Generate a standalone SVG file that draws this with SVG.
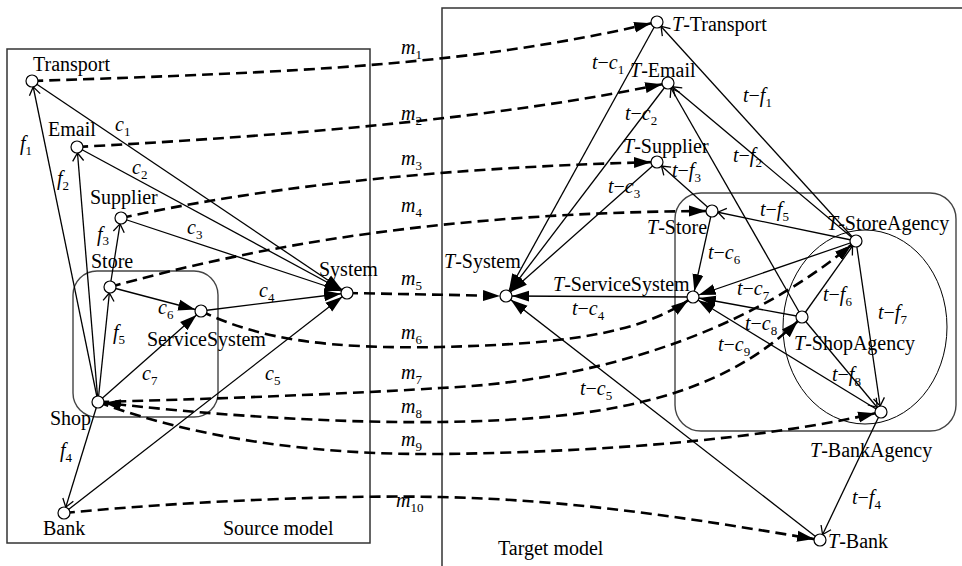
<svg xmlns="http://www.w3.org/2000/svg" width="962" height="566" viewBox="0 0 962 566">
<style>
.e{stroke:#000;stroke-width:1.3;fill:none}
.m{stroke:#000;stroke-width:2.6;stroke-dasharray:11 6;fill:none}
.n{fill:#fff;stroke:#000;stroke-width:1.2}
.t{font-family:"Liberation Serif","Times New Roman",serif;font-size:20px;fill:#000}
.i{font-style:italic}
.s{font-size:13px;font-style:normal}
.box{fill:none;stroke:#333;stroke-width:1.5}
.grp{fill:none;stroke:#444;stroke-width:1.4}
</style>
<defs>
<marker id="fa" markerUnits="userSpaceOnUse" markerWidth="26" markerHeight="14" refX="23" refY="7" orient="auto"><path d="M0,1.5 L17,7 L0,12.5 z" fill="#000"/></marker>
<marker id="fas" markerUnits="userSpaceOnUse" markerWidth="26" markerHeight="14" refX="23" refY="7" orient="auto-start-reverse"><path d="M0,1.5 L17,7 L0,12.5 z" fill="#000"/></marker>
<marker id="oa" markerUnits="userSpaceOnUse" markerWidth="18" markerHeight="14" refX="15" refY="7" orient="auto"><path d="M1,1.5 L9,7 L1,12.5" fill="none" stroke="#000" stroke-width="1.3"/></marker>
</defs>
<rect width="962" height="566" fill="#fff"/>
<!-- panels -->
<rect class="box" x="7" y="49" width="363" height="494"/>
<rect class="box" x="442" y="8" width="600" height="600"/>
<rect class="grp" x="73" y="271" width="145" height="146" rx="24"/>
<rect class="grp" x="675" y="193" width="281" height="238" rx="26"/>
<ellipse cx="865" cy="327" rx="82" ry="97" fill="none" stroke="#000" stroke-width="1"/>
<text class="t" x="223" y="535">Source model</text>
<text class="t" x="498" y="555">Target model</text>
<g id="connectors">
<!-- source model edges -->
<line class="e" x1="98" y1="402" x2="32" y2="81" marker-end="url(#oa)"/>
<line class="e" x1="98" y1="402" x2="77" y2="147" marker-end="url(#oa)"/>
<line class="e" x1="110" y1="287" x2="121" y2="218" marker-end="url(#oa)"/>
<line class="e" x1="98" y1="402" x2="64" y2="513" marker-end="url(#oa)"/>
<line class="e" x1="98" y1="402" x2="110" y2="287" marker-end="url(#oa)"/>
<line class="e" x1="32" y1="81" x2="347" y2="293" marker-end="url(#fa)"/>
<line class="e" x1="77" y1="147" x2="347" y2="293" marker-end="url(#fa)"/>
<line class="e" x1="121" y1="218" x2="347" y2="293" marker-end="url(#fa)"/>
<line class="e" x1="201" y1="311" x2="347" y2="293" marker-end="url(#fa)"/>
<line class="e" x1="64" y1="513" x2="347" y2="293" marker-end="url(#fa)"/>
<line class="e" x1="110" y1="287" x2="201" y2="311" marker-end="url(#fa)"/>
<line class="e" x1="98" y1="402" x2="201" y2="311" marker-end="url(#fa)"/>
<!-- target model edges -->
<line class="e" x1="657" y1="22" x2="506" y2="296" marker-end="url(#fa)"/>
<line class="e" x1="668" y1="83" x2="506" y2="296" marker-end="url(#fa)"/>
<line class="e" x1="657" y1="162" x2="506" y2="296" marker-end="url(#fa)"/>
<line class="e" x1="693" y1="297" x2="506" y2="296" marker-end="url(#fa)"/>
<line class="e" x1="820" y1="540" x2="506" y2="296" marker-end="url(#fa)"/>
<line class="e" x1="712" y1="211" x2="693" y2="297" marker-end="url(#fa)"/>
<line class="e" x1="856" y1="241" x2="693" y2="297" marker-end="url(#fa)"/>
<line class="e" x1="802" y1="317" x2="693" y2="297" marker-end="url(#fa)"/>
<line class="e" x1="881" y1="412" x2="693" y2="297" marker-end="url(#fa)"/>
<line class="e" x1="856" y1="241" x2="657" y2="22" marker-end="url(#oa)"/>
<line class="e" x1="856" y1="241" x2="668" y2="83" marker-end="url(#oa)"/>
<line class="e" x1="802" y1="317" x2="668" y2="83" marker-end="url(#oa)"/>
<line class="e" x1="712" y1="211" x2="657" y2="162" marker-end="url(#oa)"/>
<line class="e" x1="881" y1="412" x2="820" y2="540" marker-end="url(#oa)"/>
<line class="e" x1="856" y1="241" x2="712" y2="211" marker-end="url(#oa)"/>
<line class="e" x1="802" y1="317" x2="856" y2="241" marker-end="url(#oa)"/>
<line class="e" x1="856" y1="241" x2="881" y2="412" marker-end="url(#oa)"/>
<line class="e" x1="802" y1="317" x2="881" y2="412" marker-end="url(#oa)"/>
<!-- mappings -->
<path class="m" d="M32,81 C300,72 470,66 657,22" marker-end="url(#fa)"/>
<path class="m" d="M77,147 C300,135 500,118 668,83" marker-end="url(#fa)"/>
<path class="m" d="M121,218 C250,190 420,168 657,162" marker-end="url(#fa)"/>
<path class="m" d="M110,287 C260,245 450,212 712,211" marker-end="url(#fa)"/>
<path class="m" d="M347,293 L506,296" marker-end="url(#fa)"/>
<path class="m" d="M201,311 C260,340 330,349 440,347 C560,344 640,335 693,297" marker-end="url(#fa)"/>
<path class="m" d="M98,402 C250,398 380,392 440,388 C580,382 740,340 856,241" marker-end="url(#fa)"/>
<path class="m" d="M98,402 C250,420 380,423 440,422 C600,420 720,400 802,317" marker-start="url(#fas)" marker-end="url(#fa)"/>
<path class="m" d="M98,402 C200,440 320,455 440,454 C600,452 760,440 881,412" marker-end="url(#fa)"/>
<path class="m" d="M64,513 C200,500 350,495 440,497 C580,500 700,520 820,540" marker-end="url(#fa)"/>
<!-- edge labels -->
<text class="t" x="20" y="150"><tspan class="i">f</tspan><tspan class="s" dy="5">1</tspan></text>
<text class="t" x="57" y="185"><tspan class="i">f</tspan><tspan class="s" dy="5">2</tspan></text>
<text class="t" x="97" y="241"><tspan class="i">f</tspan><tspan class="s" dy="4">3</tspan></text>
<text class="t" x="60" y="457"><tspan class="i">f</tspan><tspan class="s" dy="5">4</tspan></text>
<text class="t" x="113" y="339"><tspan class="i">f</tspan><tspan class="s" dy="5">5</tspan></text>
<text class="t" x="115" y="131"><tspan class="i">c</tspan><tspan class="s" dy="5">1</tspan></text>
<text class="t" x="132" y="174"><tspan class="i">c</tspan><tspan class="s" dy="5">2</tspan></text>
<text class="t" x="187" y="234"><tspan class="i">c</tspan><tspan class="s" dy="5">3</tspan></text>
<text class="t" x="259" y="297"><tspan class="i">c</tspan><tspan class="s" dy="5">4</tspan></text>
<text class="t" x="265" y="380"><tspan class="i">c</tspan><tspan class="s" dy="5">5</tspan></text>
<text class="t" x="158" y="314"><tspan class="i">c</tspan><tspan class="s" dy="5">6</tspan></text>
<text class="t" x="142" y="380"><tspan class="i">c</tspan><tspan class="s" dy="5">7</tspan></text>
<text class="t" x="401" y="54"><tspan class="i">m</tspan><tspan class="s" dy="5">1</tspan></text>
<text class="t" x="401" y="120"><tspan class="i">m</tspan><tspan class="s" dy="5">2</tspan></text>
<text class="t" x="401" y="165"><tspan class="i">m</tspan><tspan class="s" dy="5">3</tspan></text>
<text class="t" x="401" y="212"><tspan class="i">m</tspan><tspan class="s" dy="5">4</tspan></text>
<text class="t" x="401" y="285"><tspan class="i">m</tspan><tspan class="s" dy="5">5</tspan></text>
<text class="t" x="401" y="339"><tspan class="i">m</tspan><tspan class="s" dy="5">6</tspan></text>
<text class="t" x="401" y="379"><tspan class="i">m</tspan><tspan class="s" dy="5">7</tspan></text>
<text class="t" x="401" y="413"><tspan class="i">m</tspan><tspan class="s" dy="5">8</tspan></text>
<text class="t" x="401" y="446"><tspan class="i">m</tspan><tspan class="s" dy="5">9</tspan></text>
<text class="t" x="396" y="507"><tspan class="i">m</tspan><tspan class="s" dy="5">10</tspan></text>
<text class="t" x="592" y="69"><tspan class="i">t</tspan>−<tspan class="i">c</tspan><tspan class="s" dy="5">1</tspan></text>
<text class="t" x="625" y="120"><tspan class="i">t</tspan>−<tspan class="i">c</tspan><tspan class="s" dy="5">2</tspan></text>
<text class="t" x="608" y="193"><tspan class="i">t</tspan>−<tspan class="i">c</tspan><tspan class="s" dy="5">3</tspan></text>
<text class="t" x="572" y="315"><tspan class="i">t</tspan>−<tspan class="i">c</tspan><tspan class="s" dy="5">4</tspan></text>
<text class="t" x="580" y="395"><tspan class="i">t</tspan>−<tspan class="i">c</tspan><tspan class="s" dy="5">5</tspan></text>
<text class="t" x="708" y="259"><tspan class="i">t</tspan>−<tspan class="i">c</tspan><tspan class="s" dy="5">6</tspan></text>
<text class="t" x="737" y="295"><tspan class="i">t</tspan>−<tspan class="i">c</tspan><tspan class="s" dy="5">7</tspan></text>
<text class="t" x="745" y="330"><tspan class="i">t</tspan>−<tspan class="i">c</tspan><tspan class="s" dy="5">8</tspan></text>
<text class="t" x="718" y="351"><tspan class="i">t</tspan>−<tspan class="i">c</tspan><tspan class="s" dy="5">9</tspan></text>
<text class="t" x="743" y="102"><tspan class="i">t</tspan>−<tspan class="i">f</tspan><tspan class="s" dy="5">1</tspan></text>
<text class="t" x="733" y="162"><tspan class="i">t</tspan>−<tspan class="i">f</tspan><tspan class="s" dy="5">2</tspan></text>
<text class="t" x="672" y="177"><tspan class="i">t</tspan>−<tspan class="i">f</tspan><tspan class="s" dy="5">3</tspan></text>
<text class="t" x="852" y="504"><tspan class="i">t</tspan>−<tspan class="i">f</tspan><tspan class="s" dy="5">4</tspan></text>
<text class="t" x="760" y="216"><tspan class="i">t</tspan>−<tspan class="i">f</tspan><tspan class="s" dy="5">5</tspan></text>
<text class="t" x="823" y="301"><tspan class="i">t</tspan>−<tspan class="i">f</tspan><tspan class="s" dy="5">6</tspan></text>
<text class="t" x="878" y="319"><tspan class="i">t</tspan>−<tspan class="i">f</tspan><tspan class="s" dy="5">7</tspan></text>
<text class="t" x="832" y="381"><tspan class="i">t</tspan>−<tspan class="i">f</tspan><tspan class="s" dy="5">8</tspan></text>
</g>
<!-- source nodes -->
<g id="Transport"><circle class="n" cx="32" cy="81" r="6"/><text class="t" x="33" y="71">Transport</text></g>
<g id="Email"><circle class="n" cx="77" cy="147" r="6"/><text class="t" x="48" y="136">Email</text></g>
<g id="Supplier"><circle class="n" cx="121" cy="218" r="6"/><text class="t" x="90" y="204">Supplier</text></g>
<g id="Store"><circle class="n" cx="110" cy="287" r="6"/><text class="t" x="91" y="268">Store</text></g>
<g id="ServiceSystem"><circle class="n" cx="201" cy="311" r="6"/><text class="t" x="147" y="346">ServiceSystem</text></g>
<g id="Shop"><circle class="n" cx="98" cy="402" r="6"/><text class="t" x="50" y="425">Shop</text></g>
<g id="System"><circle class="n" cx="347" cy="293" r="6"/><text class="t" x="319" y="276">System</text></g>
<g id="Bank"><circle class="n" cx="64" cy="513" r="6"/><text class="t" x="43" y="535">Bank</text></g>
<!-- target nodes -->
<g id="T-Transport"><circle class="n" cx="657" cy="22" r="6"/><text class="t" x="672" y="31"><tspan class="i">T</tspan>-Transport</text></g>
<g id="T-Email"><circle class="n" cx="668" cy="83" r="6"/><text class="t" x="630" y="77"><tspan class="i">T</tspan>-Email</text></g>
<g id="T-Supplier"><circle class="n" cx="657" cy="162" r="6"/><text class="t" x="623" y="153"><tspan class="i">T</tspan>-Supplier</text></g>
<g id="T-Store"><circle class="n" cx="712" cy="211" r="6"/><text class="t" x="647" y="234"><tspan class="i">T</tspan>-Store</text></g>
<g id="T-ServiceSystem"><circle class="n" cx="693" cy="297" r="6"/><text class="t" x="553" y="291"><tspan class="i">T</tspan>-ServiceSystem</text></g>
<g id="T-System"><circle class="n" cx="506" cy="296" r="6"/><text class="t" x="444" y="268"><tspan class="i">T</tspan>-System</text></g>
<g id="T-StoreAgency"><circle class="n" cx="856" cy="241" r="6"/><text class="t" x="827" y="230"><tspan class="i">T</tspan>-StoreAgency</text></g>
<g id="T-ShopAgency"><circle class="n" cx="802" cy="317" r="6"/><text class="t" x="794" y="350"><tspan class="i">T</tspan>-ShopAgency</text></g>
<g id="T-BankAgency"><circle class="n" cx="881" cy="412" r="6"/><text class="t" x="810" y="457"><tspan class="i">T</tspan>-BankAgency</text></g>
<g id="T-Bank"><circle class="n" cx="820" cy="540" r="6"/><text class="t" x="828" y="548"><tspan class="i">T</tspan>-Bank</text></g>
</svg>
